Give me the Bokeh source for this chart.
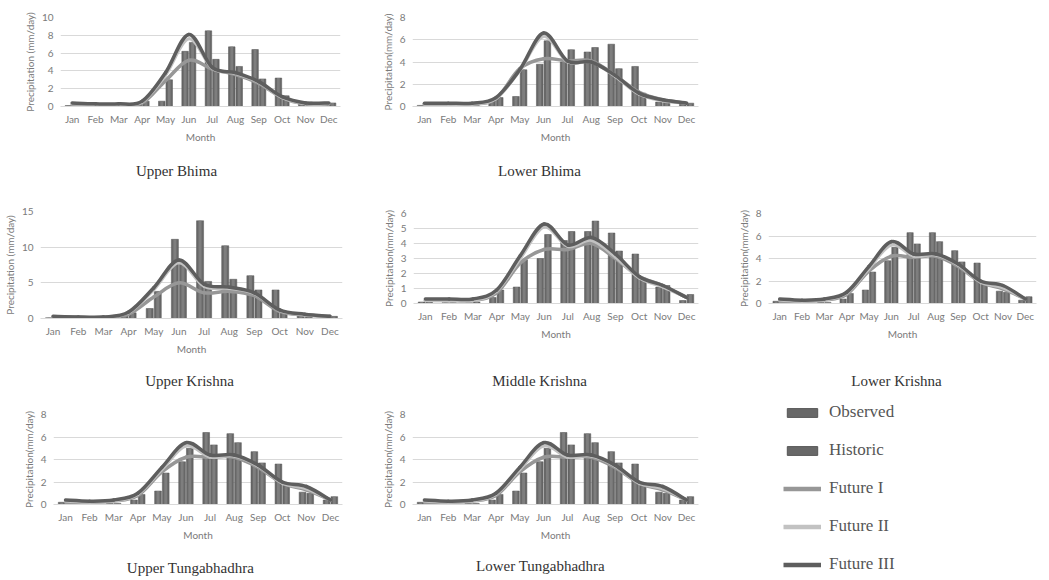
from bokeh.plotting import figure
from bokeh.models import Range1d, FixedTicker, Legend, LegendItem
from bokeh.core.properties import value
from bokeh.embed import file_html
from bokeh.resources import INLINE

months = ["Jan", "Feb", "Mar", "Apr", "May", "Jun", "Jul", "Aug", "Sep", "Oct", "Nov", "Dec"]
series_names = ["Observed", "Historic", "Future I", "Future II", "Future III"]
titles = ["Upper Bhima", "Lower Bhima", "Upper Krishna", "Middle Krishna", "Lower Krishna",
          "Upper Tungabhadhra", "Lower Tungabhadhra"]

# Upper Bhima
ub_obs = [0.1, 0.05, 0.05, 0.2, 0.6, 6.2, 8.5, 6.7, 6.4, 3.2, 0.3, 0.2]
ub_hist = [0.3, 0.05, 0.1, 0.6, 3.0, 7.2, 5.3, 4.5, 3.1, 1.2, 0.5, 0.4]
ub_f1 = [0.2, 0.2, 0.2, 0.4, 2.9, 5.2, 4.2, 3.6, 2.6, 1.0, 0.3, 0.3]
ub_f2 = [0.3, 0.2, 0.2, 0.5, 3.5, 7.6, 4.3, 3.7, 2.7, 1.0, 0.3, 0.3]
ub_f3 = [0.4, 0.3, 0.3, 0.6, 3.8, 8.1, 4.4, 3.8, 2.8, 1.1, 0.4, 0.4]

# Lower Bhima
lb_obs = [0.1, 0.05, 0.05, 0.5, 0.9, 3.8, 4.0, 4.9, 5.6, 3.6, 0.4, 0.3]
lb_hist = [0.2, 0.05, 0.1, 0.8, 3.3, 5.9, 5.1, 5.3, 3.4, 1.2, 0.4, 0.3]
lb_f1 = [0.2, 0.2, 0.2, 0.7, 3.4, 4.3, 4.1, 4.1, 2.8, 1.3, 0.6, 0.3]
lb_f2 = [0.2, 0.2, 0.2, 0.7, 3.2, 6.3, 4.0, 4.0, 2.7, 1.1, 0.5, 0.3]
lb_f3 = [0.3, 0.3, 0.3, 0.8, 3.3, 6.6, 4.1, 4.0, 2.8, 1.2, 0.6, 0.3]

# Upper Krishna
uk_obs = [0.1, 0.05, 0.05, 0.3, 1.4, 11.1, 13.7, 10.2, 6.0, 4.0, 0.4, 0.3]
uk_hist = [0.2, 0.05, 0.1, 0.8, 3.8, 7.6, 5.2, 5.5, 4.0, 1.0, 0.4, 0.3]
uk_f1 = [0.2, 0.2, 0.2, 0.6, 3.0, 5.0, 3.6, 3.8, 3.2, 1.0, 0.5, 0.3]
uk_f2 = [0.2, 0.2, 0.2, 0.8, 4.0, 7.8, 4.5, 4.2, 3.5, 1.1, 0.5, 0.3]
uk_f3 = [0.3, 0.2, 0.2, 0.9, 4.3, 8.2, 4.8, 4.4, 3.6, 1.2, 0.6, 0.3]

# Middle Krishna
mk_obs = [0.1, 0.05, 0.05, 0.4, 1.1, 3.0, 4.2, 4.8, 4.7, 3.3, 1.1, 0.2]
mk_hist = [0.2, 0.05, 0.1, 0.9, 2.9, 4.6, 4.8, 5.5, 3.5, 1.7, 1.2, 0.6]
mk_f1 = [0.2, 0.2, 0.2, 0.7, 2.7, 3.6, 3.6, 4.0, 3.0, 1.8, 1.2, 0.4]
mk_f2 = [0.2, 0.2, 0.2, 0.8, 3.0, 5.1, 3.8, 4.2, 3.1, 1.7, 1.1, 0.4]
mk_f3 = [0.3, 0.3, 0.3, 0.9, 3.2, 5.3, 3.9, 4.4, 3.3, 1.8, 1.2, 0.4]

# Lower Krishna
lk_obs = [0.2, 0.05, 0.1, 0.4, 1.2, 3.8, 6.3, 6.3, 4.7, 3.6, 1.1, 0.3]
lk_hist = [0.3, 0.05, 0.1, 0.9, 2.8, 5.0, 5.3, 5.5, 3.7, 1.7, 1.0, 0.6]
lk_f1 = [0.2, 0.2, 0.3, 0.8, 2.9, 4.2, 4.1, 4.2, 3.3, 1.9, 1.3, 0.4]
lk_f2 = [0.3, 0.2, 0.3, 0.9, 3.1, 5.2, 4.2, 4.3, 3.4, 1.9, 1.4, 0.4]
lk_f3 = [0.4, 0.3, 0.4, 1.0, 3.3, 5.5, 4.4, 4.4, 3.5, 2.0, 1.6, 0.4]

# Upper Tungabhadhra
ut_obs = [0.2, 0.05, 0.1, 0.4, 1.2, 3.8, 6.4, 6.3, 4.7, 3.6, 1.1, 0.4]
ut_hist = [0.4, 0.05, 0.1, 0.9, 2.8, 5.0, 5.3, 5.5, 3.7, 1.7, 1.0, 0.7]
ut_f1 = [0.2, 0.2, 0.3, 0.8, 2.9, 4.2, 4.2, 4.2, 3.3, 1.9, 1.3, 0.4]
ut_f2 = [0.3, 0.2, 0.3, 0.9, 3.1, 5.2, 4.2, 4.3, 3.4, 1.9, 1.4, 0.4]
ut_f3 = [0.4, 0.3, 0.4, 1.0, 3.3, 5.5, 4.4, 4.4, 3.5, 2.0, 1.6, 0.4]

# Lower Tungabhadhra
lt_obs = [0.2, 0.05, 0.1, 0.4, 1.2, 3.8, 6.4, 6.3, 4.7, 3.6, 1.1, 0.4]
lt_hist = [0.4, 0.05, 0.1, 0.9, 2.8, 5.0, 5.3, 5.5, 3.7, 1.7, 1.0, 0.7]
lt_f1 = [0.2, 0.2, 0.3, 0.8, 2.9, 4.2, 4.2, 4.2, 3.3, 1.9, 1.3, 0.4]
lt_f2 = [0.3, 0.2, 0.3, 0.9, 3.1, 5.2, 4.2, 4.3, 3.4, 1.9, 1.4, 0.4]
lt_f3 = [0.4, 0.3, 0.4, 1.0, 3.3, 5.5, 4.4, 4.4, 3.5, 2.0, 1.6, 0.4]

BAR = "#686868"
BAR_HI = "#7e7e7e"
BAR_EDGE = "#555555"
C_F1 = "#979797"
C_F2 = "#c2c2c2"
C_F3 = "#5e5e5e"
GRID = "#d9d9d9"
TICK = "#7a7a7a"
SANS = "Lato"
SERIF = "Liberation Serif"

xnum = list(range(1, 13))


def smooth(xs, ys):
    n = len(xs)
    out = {k: [] for k in ("x0", "y0", "x1", "y1", "cx0", "cy0", "cx1", "cy1")}
    for i in range(n - 1):
        a = i - 1 if i > 0 else i
        d = i + 2 if i + 2 < n else i + 1
        out["x0"].append(xs[i]); out["y0"].append(ys[i])
        out["x1"].append(xs[i + 1]); out["y1"].append(ys[i + 1])
        out["cx0"].append(xs[i] + (xs[i + 1] - xs[a]) / 6.0)
        out["cy0"].append(ys[i] + (ys[i + 1] - ys[a]) / 6.0)
        out["cx1"].append(xs[i + 1] - (xs[d] - xs[i]) / 6.0)
        out["cy1"].append(ys[i + 1] - (ys[d] - ys[i]) / 6.0)
    return out


def panel(ylabel, ymax, ystep, obs, hist, f1, f2, f3, w, h, L, R, T, B):
    p = figure(width=w, height=h, x_range=Range1d(0.5, 12.5), y_range=Range1d(0, ymax),
               output_backend="svg", toolbar_location=None,
               min_border_left=L, min_border_right=R, min_border_top=T, min_border_bottom=B)
    p.outline_line_color = None
    p.background_fill_alpha = 0
    p.border_fill_alpha = 0
    p.xgrid.grid_line_color = None
    yt = list(range(0, ymax + 1, ystep))
    p.yaxis.ticker = FixedTicker(ticks=yt)
    p.ygrid.ticker = FixedTicker(ticks=yt)
    p.ygrid.grid_line_color = GRID
    p.xaxis.ticker = FixedTicker(ticks=xnum)
    p.xaxis.major_label_overrides = {i + 1: m for i, m in enumerate(months)}
    for ax in (p.xaxis, p.yaxis):
        ax.major_tick_line_color = None
        ax.minor_tick_line_color = None
        ax.major_tick_out = 0
        ax.major_tick_in = 0
        ax.minor_tick_out = 0
        ax.minor_tick_in = 0
        ax.major_label_text_font = SANS
        ax.major_label_text_font_size = "10px"
        ax.major_label_text_color = TICK
        ax.axis_label_text_font = SANS
        ax.axis_label_text_font_size = "10px"
        ax.axis_label_text_color = TICK
        ax.axis_label_text_font_style = "normal"
    p.xaxis.axis_line_color = GRID
    p.yaxis.axis_line_color = None
    p.xaxis.major_label_standoff = 6
    p.xaxis.axis_label = "Month"
    p.xaxis.axis_label_standoff = 3
    p.yaxis.axis_label = ylabel
    p.yaxis.major_label_standoff = 7
    p.yaxis.axis_label_standoff = 3

    xo = [x - 0.16 for x in xnum]
    xh = [x + 0.16 for x in xnum]
    p.vbar(x=xo, top=obs, width=0.28, fill_color=BAR, line_color=BAR_EDGE, line_width=0.5)
    p.vbar(x=xo, top=obs, width=0.12, fill_color=BAR_HI, line_color=None)
    p.vbar(x=xh, top=hist, width=0.28, fill_color=BAR, line_color=BAR_EDGE, line_width=0.5)
    p.vbar(x=xh, top=hist, width=0.12, fill_color=BAR_HI, line_color=None)

    for ys, col, lw in ((f1, C_F1, 3.5), (f2, C_F2, 3.0), (f3, C_F3, 3.5)):
        s = smooth(xnum, ys)
        p.bezier(x0=s["x0"], y0=s["y0"], x1=s["x1"], y1=s["y1"],
                 cx0=s["cx0"], cy0=s["cy0"], cx1=s["cx1"], cy1=s["cy1"],
                 line_color=col, line_width=lw, line_cap="round")
    return p


def title_box(text, w=240, h=26):
    t = figure(width=w, height=h, x_range=Range1d(0, 1), y_range=Range1d(0, 1),
               output_backend="svg", toolbar_location=None, min_border=0)
    t.axis.visible = False
    t.grid.visible = False
    t.outline_line_color = None
    t.background_fill_alpha = 0
    t.border_fill_alpha = 0
    t.text(x=[0.5], y=[0.5], text=[text], text_align="center", text_baseline="middle",
           text_font=value(SERIF), text_font_size="15px", text_color="#333333")
    return t


roots = []
pos = []


def place(model, x, y):
    roots.append(model)
    pos.append((x, y))


place(panel("Precipitation (mm/day)", 10, 2, ub_obs, ub_hist, ub_f1, ub_f2, ub_f3,
            370, 160, 60, 30, 17, 54), 0, 0)
place(panel("Precipitation(mm/day)", 8, 2, lb_obs, lb_hist, lb_f1, lb_f2, lb_f3,
            340, 160, 42, 12, 17, 54), 370, 0)
place(panel("Precipitation (mm/day)", 15, 5, uk_obs, uk_hist, uk_f1, uk_f2, uk_f3,
            370, 170, 38, 28, 16, 47), 0, 195)
place(panel("Precipitation(mm/day)", 6, 1, mk_obs, mk_hist, mk_f1, mk_f2, mk_f3,
            340, 160, 43, 12, 18, 52), 370, 195)
place(panel("Precipitation(mm/day)", 8, 2, lk_obs, lk_hist, lk_f1, lk_f2, lk_f3,
            339, 160, 58, 13, 18, 52), 710, 195)
place(panel("Precipitation(mm/day)", 8, 2, ut_obs, ut_hist, ut_f1, ut_f2, ut_f3,
            370, 160, 53, 28, 22, 48), 0, 392)
place(panel("Precipitation(mm/day)", 8, 2, lt_obs, lt_hist, lt_f1, lt_f2, lt_f3,
            340, 160, 42, 12, 22, 48), 370, 392)

title_centres = [(176, 170), (539, 170), (189, 380), (539, 380), (896, 380), (190, 567), (540, 565)]
for txt, (cx, cy) in zip(titles, title_centres):
    place(title_box(txt), cx - 120, cy - 13)

# legend (proxy renderers sit outside the visible range; they only feed the legend)
lg = figure(width=230, height=176, output_backend="svg", toolbar_location=None,
            x_range=Range1d(0, 1), y_range=Range1d(0, 1), min_border=0)
lg.axis.visible = False
lg.grid.visible = False
lg.outline_line_color = None
lg.background_fill_alpha = 0
lg.border_fill_alpha = 0
r_obs = lg.vbar(x=[-5], top=[-5], bottom=[-6], width=0.3, fill_color=BAR, line_color=BAR_EDGE)
r_hist = lg.vbar(x=[-5], top=[-5], bottom=[-6], width=0.3, fill_color=BAR, line_color=BAR_EDGE)
r_f1 = lg.line(x=[-5, -4], y=[-5, -5], line_color=C_F1, line_width=4.5)
r_f2 = lg.line(x=[-5, -4], y=[-5, -5], line_color=C_F2, line_width=4.5)
r_f3 = lg.line(x=[-5, -4], y=[-5, -5], line_color=C_F3, line_width=4.5)
legend = Legend(items=[LegendItem(label=n, renderers=[r]) for n, r in
                       zip(series_names, [r_obs, r_hist, r_f1, r_f2, r_f3])],
                location="top_left", orientation="vertical",
                glyph_width=38, glyph_height=11, label_height=20, spacing=18,
                label_standoff=8, padding=0, margin=0,
                border_line_color=None, background_fill_alpha=0,
                label_text_font=SERIF, label_text_font_size="17px", label_text_color="#555555")
lg.add_layout(legend)
place(lg, 783, 402)

TEMPLATE = """
{% from macros import embed with context %}
{% block contents %}
<div style="position:relative;width:1049px;height:580px;overflow:hidden;">
{%- for doc in docs %}
{%- for root in doc.roots %}
<div style="position:absolute;left:{{ pos[loop.index0][0] }}px;top:{{ pos[loop.index0][1] }}px;">
{{ embed(root) }}
</div>
{%- endfor %}
{%- endfor %}
</div>
{% endblock %}
"""

open("out.html", "w").write(file_html(roots, INLINE, template=TEMPLATE,
                                      template_variables={"pos": pos}))
